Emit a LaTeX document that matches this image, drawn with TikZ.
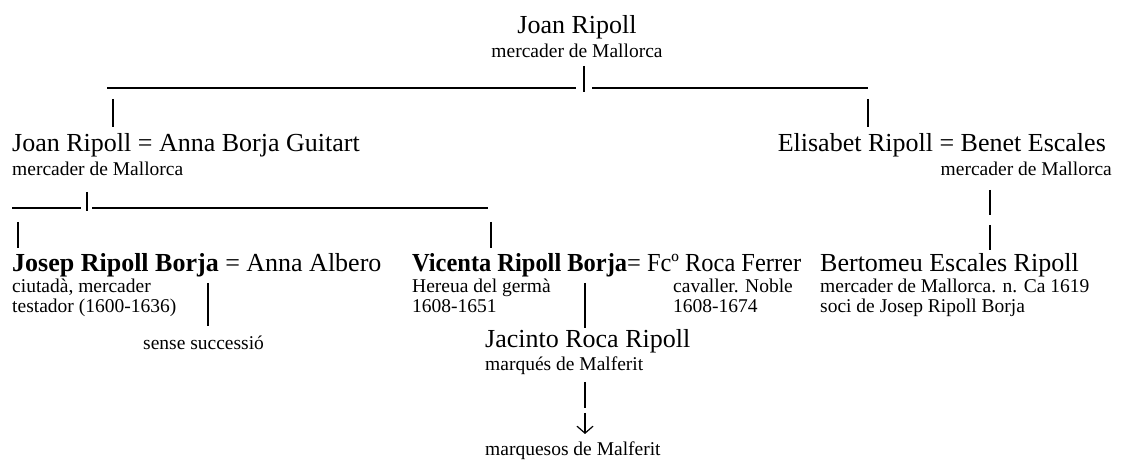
\documentclass[tikz,border=0pt]{standalone}
\usepackage{fontspec}
\usepackage{graphicx}
\setmainfont{Liberation Serif}
\usetikzlibrary{arrows.meta}
\begin{document}
\begin{tikzpicture}[x=1bp,y=-1bp,
  big/.style={anchor=base west,inner sep=0pt,font=\fontsize{26bp}{30bp}\selectfont},
  small/.style={anchor=base west,inner sep=0pt,font=\fontsize{19.5bp}{22bp}\selectfont},
  bar/.style={line width=1.2bp},
  stem/.style={line width=2bp}]
\useasboundingbox (0,0) rectangle (1141,461);
% first generation
\node[big,anchor=base] (joan) at (577,34){Joan Ripoll};
\node[small,anchor=base] (joanm) at (577,58){mercader de Mallorca};
\coordinate (top1) at (584,66);
\coordinate (top2) at (584,92);
\coordinate (bar1a) at (107,88);
\coordinate (bar1b) at (576,88);
\coordinate (bar1c) at (592,88);
\coordinate (bar1d) at (868,88);
\draw[stem] (top1)--(top2);
\draw[bar] (bar1a)--(bar1b);
\draw[bar] (bar1c)--(bar1d);
\coordinate (l1a) at (113,99);
\coordinate (l1b) at (113,127);
\coordinate (r1a) at (868,99);
\coordinate (r1b) at (868,127);
\draw[stem] (l1a)--(l1b);
\draw[stem] (r1a)--(r1b);
% second generation
\node[big] (joan2) at (12,152){Joan Ripoll = Anna Borja Guitart};
\node[small] (joan2m) at (12,176){mercader de Mallorca};
\node[big,anchor=base east] (elis) at (1106,152){Elisabet Ripoll = Benet Escales};
\node[small,anchor=base east] (benet) at (1112,176){mercader de Mallorca};
\coordinate (bar2a) at (12,208);
\coordinate (bar2b) at (81,208);
\coordinate (bar2c) at (92,208);
\coordinate (bar2d) at (488,208);
\coordinate (mid2a) at (87,192);
\coordinate (mid2b) at (87,211);
\draw[bar] (bar2a)--(bar2b);
\draw[bar] (bar2c)--(bar2d);
\draw[stem] (mid2a)--(mid2b);
\coordinate (l2a) at (18,222);
\coordinate (l2b) at (18,248);
\coordinate (m2a) at (491,222);
\coordinate (m2b) at (491,248);
\draw[stem] (l2a)--(l2b);
\draw[stem] (m2a)--(m2b);
\coordinate (r2a) at (990,190);
\coordinate (r2b) at (990,215);
\coordinate (r2c) at (990,225);
\coordinate (r2d) at (990,250);
\draw[stem] (r2a)--(r2b);
\draw[stem] (r2c)--(r2d);
% third generation
\node[big] (josep) at (12,272){\textbf{Josep Ripoll Borja} = Anna Albero};
\node[small] (josep1) at (12,293){ciutadà, mercader};
\node[small] (josep2) at (12,313){testador (1600-1636)};
\coordinate (js1) at (208,283);
\coordinate (js2) at (208,326);
\draw[stem] (js1)--(js2);
\node[small] (sense) at (143,350){sense successió};
\node[big] (vic) at (412,272){\scalebox{0.94}[1]{\textbf{Vicenta Ripoll Borja}= Fcº Roca Ferrer}};
\node[small] (vic1) at (412,293){Hereua del germà};
\node[small] (vic2) at (412,313){1608-1651};
\node[small] (fco1) at (673,293){cavaller. Noble};
\node[small] (fco2) at (673,313){1608-1674};
\coordinate (vs1) at (585,283);
\coordinate (vs2) at (585,328);
\draw[stem] (vs1)--(vs2);
\node[big] (bert) at (820,272){Bertomeu Escales Ripoll};
\node[small] (bert1) at (820,293){mercader de Mallorca. n. Ca 1619};
\node[small] (bert2) at (820,313){soci de Josep Ripoll Borja};
% fourth generation
\node[big] (jac) at (485,348){Jacinto Roca Ripoll};
\node[small] (jacm) at (485,371){marqués de Malferit};
\coordinate (jc1) at (585,382);
\coordinate (jc2) at (585,408);
\coordinate (ar1) at (585,413);
\coordinate (ar2) at (585,434);
\draw[stem] (jc1)--(jc2);
\draw[line width=1.2bp,-{Straight Barb[length=7bp,width=16bp,line width=1.2bp]}] (ar1)--(ar2);
\node[small] (marq) at (485,456){marquesos de Malferit};
\end{tikzpicture}
\end{document}
